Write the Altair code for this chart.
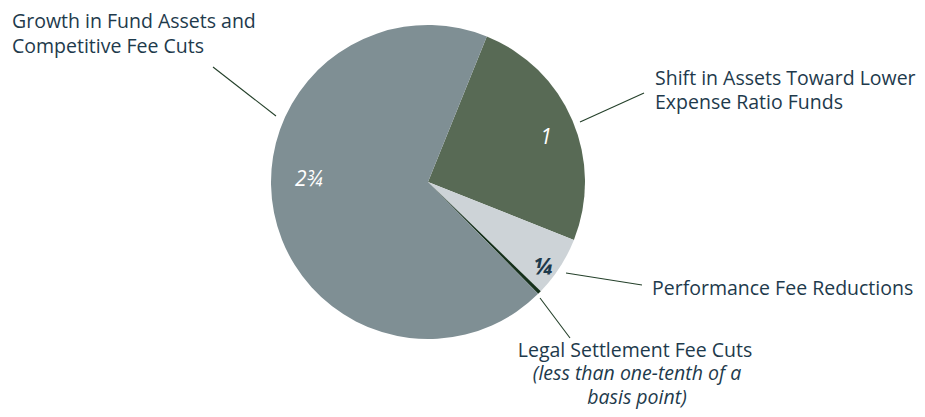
import altair as alt
import pandas as pd

# ---- data ----
categories = [
    "Shift in Assets Toward Lower Expense Ratio Funds",
    "Performance Fee Reductions",
    "Legal Settlement Fee Cuts",
    "Growth in Fund Assets and Competitive Fee Cuts",
]
values = [1.0, 0.25, 0.015, 2.75]
order = [1, 2, 3, 4]
colors = ["#586a55", "#cdd3d7", "#15301b", "#7f8f94"]

df = pd.DataFrame({"category": categories, "value": values, "order": order})

W, H = 909, 401
CX, CY, R = 420, 174, 157
START = 0.384  # radians, clockwise from 12 o'clock
TWO_PI = 6.283185307

FONT = "Open Sans"
TEXT_COLOR = "#1e3a4c"
LINE_COLOR = "#24402a"
FS = 19.5

pie = alt.Chart(df).mark_arc(outerRadius=R, stroke=None).encode(
    theta=alt.Theta("value:Q", stack=True,
                    scale=alt.Scale(range=[START, START + TWO_PI])),
    color=alt.Color("category:N", scale=alt.Scale(domain=categories, range=colors), legend=None),
    order=alt.Order("order:Q"),
    x=alt.value(CX),
    y=alt.value(CY),
)

base = alt.Chart(pd.DataFrame({"a": [0]}))


def label(text, x, y, align="left", size=FS, italic=False, color=TEXT_COLOR, weight="normal", lh=24):
    return base.mark_text(
        text=text, align=align, baseline="alphabetic", font=FONT, fontSize=size,
        fontStyle="italic" if italic else "normal", color=color, fontWeight=weight,
        lineHeight=lh,
    ).encode(x=alt.value(x), y=alt.value(y))


def leader(x1, y1, x2, y2):
    return base.mark_rule(color=LINE_COLOR, strokeWidth=1.1).encode(
        x=alt.value(x1), y=alt.value(y1), x2=alt.value(x2), y2=alt.value(y2)
    )


layers = [
    pie,
    # inner value labels
    label("1", 538, 136, align="center", size=21, italic=True, color="white"),
    label("2¾", 301, 178, align="center", size=21, italic=True, color="white"),
    label("¼", 535, 267, align="center", size=23, italic=True, color=TEXT_COLOR, weight="bold"),
    # outer labels
    label(["Growth in Fund Assets and", "Competitive Fee Cuts"], 4, 20, lh=25),
    label(["Shift in Assets Toward Lower", "Expense Ratio Funds"], 647, 77, lh=24),
    label("Performance Fee Reductions", 644, 287),
    label("Legal Settlement Fee Cuts", 627, 349, align="center"),
    label(["(less than one-tenth of a", "basis point)"], 629, 372, align="center", italic=True, lh=24),
    # leader lines
    leader(205, 59, 268, 108),
    leader(572, 114, 636, 85),
    leader(558, 265, 634, 277),
    leader(532, 290, 562, 330),
]

chart = alt.layer(*layers).properties(
    width=W, height=H, padding=0, autosize=alt.AutoSizeParams(type="none")
).configure_view(stroke=None)

chart.save("out.html", embed_options={"renderer": "svg", "actions": False})
